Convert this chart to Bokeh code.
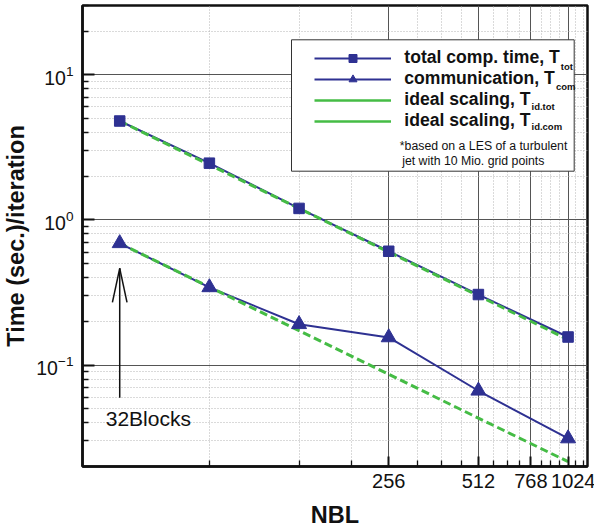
import math
from bokeh.plotting import figure
from bokeh.models import (FixedTicker, LogTickFormatter, PrintfTickFormatter, Legend, LegendItem,
                          BoxAnnotation, Label, Arrow, ColumnDataSource)
from bokeh.embed import file_html
from bokeh.resources import INLINE

# ---- data ----
nbl = [32, 64, 128, 256, 512, 1024]
t_tot = [4.80, 2.46, 1.20, 0.608, 0.306, 0.156]
t_com = [0.69, 0.343, 0.191, 0.155, 0.0665, 0.0312]
t_id_tot = [4.80, 2.40, 1.20, 0.600, 0.300, 0.150]
t_id_com = [0.69, 0.345, 0.1725, 0.0863, 0.0431, 0.0216]

x_major_ticks = [256, 512, 768, 1024]
x_minor_ticks = [64, 128, 192, 320, 384, 448, 576, 640, 704, 832, 896, 960, 1088, 1152]
y_major_ticks = [0.01, 0.1, 1, 10, 100]
y_minor_ticks = [m * d for d in [0.01, 0.1, 1, 10] for m in range(2, 10)]

legend_labels = ["total comp. time, T", "communication, T", "ideal scaling, T", "ideal scaling, T"]
legend_subs = ["tot", "com", "id.tot", "id.com"]
note_lines = ["*based on a LES of a turbulent", "jet with 10 Mio. grid points"]
arrow_x = 32
arrow_y = (0.0595, 0.464)
arrow_text = "32Blocks"
arrow_text_y = 0.043

x_lo, x_hi = 24, 1190
y_lo, y_hi = 0.02, 30

BLUE = "#2E3192"
GREEN = "#45BC45"
INK = "#111111"
FONT = "Liberation Sans"
FW, FH = 505, 461

p = figure(frame_width=FW, frame_height=FH, x_axis_type="log", y_axis_type="log",
           x_range=(x_lo, x_hi), y_range=(y_lo, y_hi),
           output_backend="svg", toolbar_location=None,
           min_border_left=81, min_border_right=8, min_border_top=5, min_border_bottom=64)
p.background_fill_color = "white"
p.outline_line_color = INK
p.outline_line_width = 2.5

# axes
p.xaxis.ticker = FixedTicker(ticks=x_major_ticks, minor_ticks=x_minor_ticks)
p.xaxis.formatter = PrintfTickFormatter(format="%d")
p.xaxis.major_label_overrides = {1024: "\u00a0\u00a01024"}
p.yaxis.ticker = FixedTicker(ticks=y_major_ticks, minor_ticks=y_minor_ticks)
p.yaxis.formatter = LogTickFormatter()
for ax in (p.xaxis, p.yaxis):
    ax.axis_line_color = INK
    ax.axis_line_width = 2.5
    ax.major_tick_out = 0
    ax.minor_tick_out = 0
    ax.major_tick_line_color = INK
    ax.minor_tick_line_color = INK
    ax.major_tick_line_width = 2
    ax.minor_tick_line_width = 1.3
    ax.major_label_text_font = FONT
    ax.major_label_text_color = INK
    ax.axis_label_text_font = FONT
    ax.axis_label_text_font_style = "bold"
    ax.axis_label_text_font_size = "23.5px"
    ax.axis_label_text_color = INK
p.xaxis.major_label_text_font_size = "20px"
p.yaxis.major_label_text_font_size = "19.5px"
p.xaxis.major_tick_in = 10
p.xaxis.minor_tick_in = 6
p.yaxis.major_tick_in = 12
p.yaxis.minor_tick_in = 6
p.xaxis.major_label_standoff = 3
p.yaxis.major_label_standoff = 9
p.xaxis.axis_label = "NBL"
p.yaxis.axis_label = "Time (sec.)/iteration"
p.xaxis.axis_label_standoff = 7
p.yaxis.axis_label_standoff = 4

for g in (p.xgrid, p.ygrid):
    g.grid_line_color = "#555555"
    g.grid_line_width = 1
    g.minor_grid_line_color = "#b5b5b5"
    g.minor_grid_line_dash = "1 2"
    g.minor_grid_line_width = 1

# series
src = ColumnDataSource(dict(nbl=nbl, t_tot=t_tot, t_com=t_com, t_id_tot=t_id_tot, t_id_com=t_id_com))
p.line("nbl", "t_tot", source=src, line_color=BLUE, line_width=2)
p.line("nbl", "t_com", source=src, line_color=BLUE, line_width=2)
p.line("nbl", "t_id_tot", source=src, line_color=GREEN, line_width=3, line_dash="8 4")
p.line("nbl", "t_id_com", source=src, line_color=GREEN, line_width=3, line_dash="8 4")
p.scatter("nbl", "t_tot", source=src, marker="square", size=10.5, fill_color=BLUE, line_color=BLUE)
p.scatter("nbl", "t_com", source=src, marker="triangle", size=15, fill_color=BLUE, line_color=BLUE)

# legend samples (solid, as in the reference legend) from renderers that draw nothing
nan_src = ColumnDataSource(dict(x=[float("nan")], y=[float("nan")]))
l1 = p.line("x", "y", source=nan_src, line_color=BLUE, line_width=2)
m1 = p.scatter("x", "y", source=nan_src, marker="square", fill_color=BLUE, line_color=BLUE)
l2 = p.line("x", "y", source=nan_src, line_color=BLUE, line_width=2)
m2 = p.scatter("x", "y", source=nan_src, marker="triangle", fill_color=BLUE, line_color=BLUE)
l3 = p.line("x", "y", source=nan_src, line_color=GREEN, line_width=2.5)
l4 = p.line("x", "y", source=nan_src, line_color=GREEN, line_width=2.5)

box = BoxAnnotation(left=209, right=491.7, top=426.7, bottom=295.3,
                    left_units="screen", right_units="screen", top_units="screen", bottom_units="screen",
                    fill_color="white", fill_alpha=1, line_color="#333333", line_width=1, line_alpha=1)
p.add_layout(box)

LEG_X, LEG_TOP, ROW_H, GLYPH_W, STANDOFF, LFS = 232.3, 415.0, 20, 77, 13, 17.6
legend = Legend(items=[LegendItem(label=legend_labels[0], renderers=[l1, m1]),
                       LegendItem(label=legend_labels[1], renderers=[l2, m2]),
                       LegendItem(label=legend_labels[2], renderers=[l3]),
                       LegendItem(label=legend_labels[3], renderers=[l4])],
                location=(LEG_X, LEG_TOP - 4 * ROW_H), glyph_width=GLYPH_W, glyph_height=ROW_H,
                label_height=ROW_H, spacing=0, padding=0, margin=0, label_standoff=STANDOFF,
                label_text_font=FONT, label_text_font_style="bold", label_text_font_size=f"{LFS}px",
                label_text_color=INK, border_line_alpha=0, background_fill_alpha=0)
p.add_layout(legend)

# subscripts placed after each label (Arial/Liberation bold advance widths, 1/1000 em)
bold_w = {" ": 278, ",": 278, ".": 278, "a": 556, "b": 611, "c": 556, "d": 611, "e": 556,
          "g": 611, "i": 278, "l": 278, "m": 889, "n": 611, "o": 611, "p": 611, "s": 556,
          "t": 333, "u": 611, "T": 611}
text_x0 = LEG_X + GLYPH_W + STANDOFF
for k, (lab, s) in enumerate(zip(legend_labels, legend_subs)):
    w = sum(bold_w[c] for c in lab) * LFS / 1000.0
    cy = LEG_TOP - ROW_H / 2 - k * ROW_H
    p.add_layout(Label(x=text_x0 + w + 0.5, y=cy - 5, x_units="screen", y_units="screen", text=s,
                       text_font=FONT, text_font_style="bold", text_font_size="9.5px",
                       text_color=INK, text_baseline="middle", text_align="left"))

for txt, nx, ny in zip(note_lines, [317.3, 319.7], [320.3, 306.0]):
    p.add_layout(Label(x=nx, y=ny, x_units="screen", y_units="screen", text=txt,
                       text_font=FONT, text_font_size="12.3px", text_color=INK,
                       text_baseline="middle", text_align="left"))

# arrow annotation
p.add_layout(Arrow(x_start=arrow_x, y_start=arrow_y[0], x_end=arrow_x, y_end=arrow_y[1],
                   line_color=INK, line_width=1.5, end=None))
ax_s = FW * math.log(arrow_x / x_lo) / math.log(x_hi / x_lo)
ay_s = FH * math.log(arrow_y[1] / y_lo) / math.log(y_hi / y_lo)
for dx in (-7.3, 7.3):
    p.add_layout(Arrow(x_start=ax_s, y_start=ay_s, x_end=ax_s + dx, y_end=ay_s - 34,
                       start_units="screen", end_units="screen",
                       line_color=INK, line_width=1.5, end=None))
p.add_layout(Label(x=arrow_x, y=arrow_text_y, x_offset=-14, text=arrow_text,
                   text_font=FONT, text_font_size="21px", text_color=INK,
                   text_baseline="middle", text_align="left"))

open("out.html", "w").write(file_html(p, INLINE))
